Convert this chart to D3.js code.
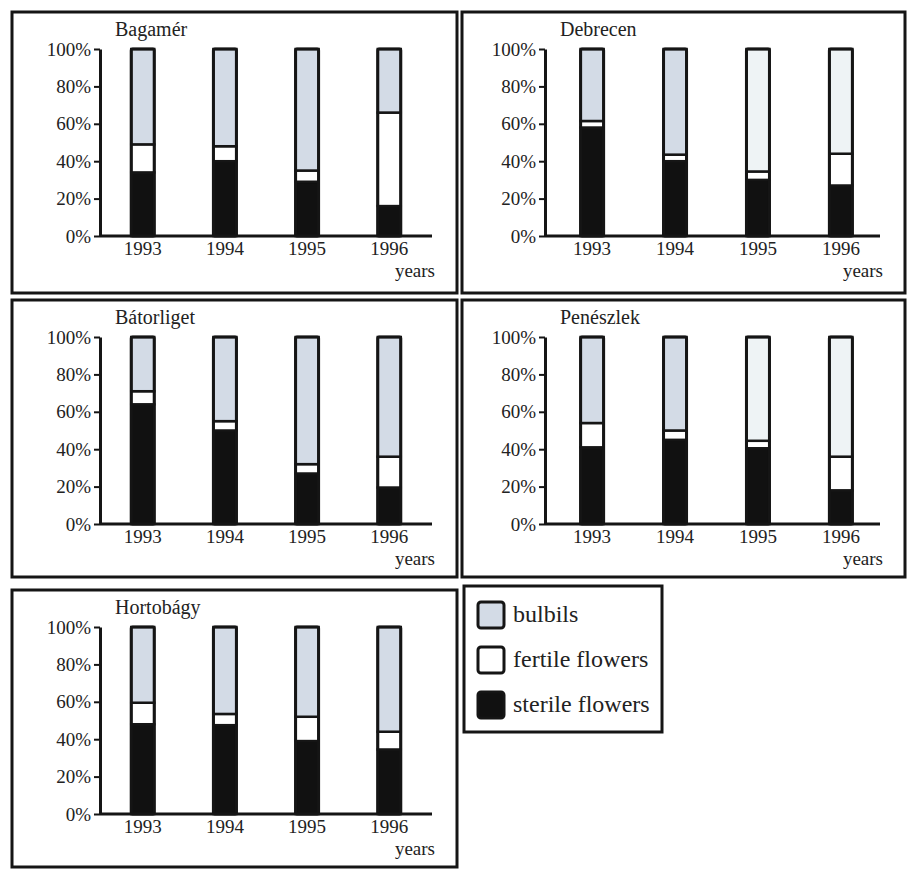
<!DOCTYPE html>
<html>
<head>
    <meta charset="utf-8">
    <style>
        body { margin: 0; background: #fff; }
    </style>
</head>
<body>
    <script src="https://cdnjs.cloudflare.com/ajax/libs/d3/7.8.5/d3.min.js"></script>
    <script>
        // values (percent of each year's total)
        var years = ["1993", "1994", "1995", "1996"];
        var sites = ["Bagamér", "Debrecen", "Bátorliget", "Penészlek", "Hortobágy"];
        var sterileFlowers = [[34, 40, 29, 16], [58, 40, 30, 27], [64, 50, 27, 19.5], [41, 45, 40.5, 18], [48, 47.5, 39, 34.5]];
        var fertileFlowers = [[15, 8, 6, 50], [3.5, 3.5, 4.5, 17], [7, 5, 5, 16.5], [13, 5, 4, 18], [11.5, 6, 13, 9.5]];
        var bulbils = [[51, 52, 65, 34], [38.5, 56.5, 65.5, 56], [29, 45, 68, 64], [46, 50, 55.5, 64], [40.5, 46.5, 48, 56]];
        // bars where the bulbil stipple printed very pale
        var paleBulbils = [[0, 0, 0, 0], [0, 0, 1, 1], [0, 0, 0, 0], [0, 0, 1, 1], [0, 0, 0, 0]];
        var yTicks = [0, 20, 40, 60, 80, 100];
        var legendNames = ["bulbils", "fertile flowers", "sterile flowers"];

        var keys = ["sterile", "fertile", "bulbils"];
        var colors = { sterile: "#111", fertile: "#fff", bulbils: "#d3dbe6" };
        var paleColor = "#eef3f5";
        var ink = "#151515";
        var serif = "'Liberation Serif'";

        var boxes = [
            { x: 12, y: 12, w: 445, h: 281, ox: 88, dx: 0 },
            { x: 462, y: 12, w: 443, h: 281, ox: 83, dx: 4 },
            { x: 12, y: 300, w: 445, h: 277, ox: 88, dx: 0 },
            { x: 462, y: 300, w: 443, h: 277, ox: 83, dx: 4 },
            { x: 12, y: 590, w: 445, h: 277, ox: 88, dx: 0 }
        ];
        var plotTop = 37, plotHeight = 187, barWidth = 23;

        var svg = d3.select("body").append("svg")
            .attr("width", 909)
            .attr("height", 870)
            .attr("font-family", serif);

        var stack = d3.stack().keys(keys);

        sites.forEach(function (site, s) {
            var box = boxes[s];
            var rows = years.map(function (y, i) {
                return { year: y, sterile: sterileFlowers[s][i], fertile: fertileFlowers[s][i], bulbils: bulbils[s][i] };
            });
            var layers = stack(rows);
            var xLen = box.w - box.ox - 25;

            svg.append("rect")
                .attr("x", box.x).attr("y", box.y)
                .attr("width", box.w).attr("height", box.h)
                .attr("fill", "none")
                .attr("stroke", ink)
                .attr("stroke-width", 3);

            var g = svg.append("g")
                .attr("transform", "translate(" + (box.x + box.ox) + "," + (box.y + plotTop) + ")");

            var xScale = d3.scalePoint().domain(years).range([box.dx, xLen + box.dx]).padding(0.52);
            var yScale = d3.scaleLinear().domain([0, 100]).range([plotHeight, 0]);

            g.append("text")
                .attr("x", 15)
                .attr("y", -13)
                .attr("font-family", serif)
                .attr("font-size", 20)
                .attr("fill", "#222")
                .text(site);

            layers.forEach(function (layer) {
                g.selectAll(null)
                    .data(layer)
                    .enter()
                    .append("rect")
                    .attr("x", function (d) { return xScale(d.data.year) - barWidth / 2; })
                    .attr("y", function (d) { return yScale(d[1]); })
                    .attr("width", barWidth)
                    .attr("height", function (d) { return yScale(d[0]) - yScale(d[1]); })
                    .attr("fill", function (d, i) {
                        if (layer.key === "bulbils" && paleBulbils[s][i]) return paleColor;
                        return colors[layer.key];
                    })
                    .attr("stroke", ink)
                    .attr("stroke-width", 2.5);
            });

            // outline of each whole bar
            g.selectAll(null)
                .data(years)
                .enter()
                .append("rect")
                .attr("x", function (d) { return xScale(d) - barWidth / 2; })
                .attr("y", yScale(100))
                .attr("width", barWidth)
                .attr("height", yScale(0) - yScale(100))
                .attr("rx", 1.5)
                .attr("fill", "none")
                .attr("stroke", ink)
                .attr("stroke-width", 3);

            var yAxis = d3.axisLeft(yScale)
                .tickValues(yTicks)
                .tickSizeInner(6)
                .tickSizeOuter(0)
                .tickPadding(3)
                .tickFormat(function (d) { return d + "%"; });
            var yAxisNodes = g.append("g").call(yAxis);
            styleAxisNodes(yAxisNodes);

            // x axis: plain baseline with year labels under the bars
            g.append("line")
                .attr("x1", 0).attr("x2", xLen)
                .attr("y1", yScale(0)).attr("y2", yScale(0))
                .attr("stroke", ink)
                .attr("stroke-width", 3);

            g.selectAll(null)
                .data(years)
                .enter()
                .append("text")
                .attr("x", function (d) { return xScale(d); })
                .attr("y", yScale(0) + 19)
                .attr("text-anchor", "middle")
                .attr("font-family", serif)
                .attr("font-size", 19)
                .attr("fill", "#222")
                .text(function (d) { return d; });

            g.append("text")
                .attr("x", xLen + 3)
                .attr("y", yScale(0) + 41)
                .attr("text-anchor", "end")
                .attr("font-family", serif)
                .attr("font-size", 19)
                .attr("fill", "#222")
                .text("years");
        });

        // legend
        var legend = svg.append("g");
        legend.append("rect")
            .attr("x", 464).attr("y", 586)
            .attr("width", 198).attr("height", 146)
            .attr("fill", "none")
            .attr("stroke", ink)
            .attr("stroke-width", 3);

        var legendColors = [colors.bulbils, colors.fertile, colors.sterile];
        var legendItems = legend.selectAll(null)
            .data(legendNames)
            .enter()
            .append("g")
            .attr("transform", function (d, i) { return "translate(478," + (602 + i * 45) + ")"; });
        legendItems.append("rect")
            .attr("width", 26).attr("height", 26)
            .attr("rx", 3)
            .attr("fill", function (d, i) { return legendColors[i]; })
            .attr("stroke", ink)
            .attr("stroke-width", 3);
        legendItems.append("text")
            .attr("x", 35)
            .attr("y", 20)
            .attr("font-family", serif)
            .attr("font-size", 24)
            .attr("fill", "#222")
            .text(function (d) { return d; });

        function styleAxisNodes(axisNodes) {
            axisNodes.attr("font-family", serif).attr("font-size", 19);
            axisNodes.select(".domain")
                .attr("stroke", ink)
                .attr("stroke-width", 3);
            axisNodes.selectAll(".tick line")
                .attr("stroke", ink)
                .attr("stroke-width", 2);
            axisNodes.selectAll(".tick text")
                .attr("fill", "#222");
        }
    </script>
</body>
</html>
